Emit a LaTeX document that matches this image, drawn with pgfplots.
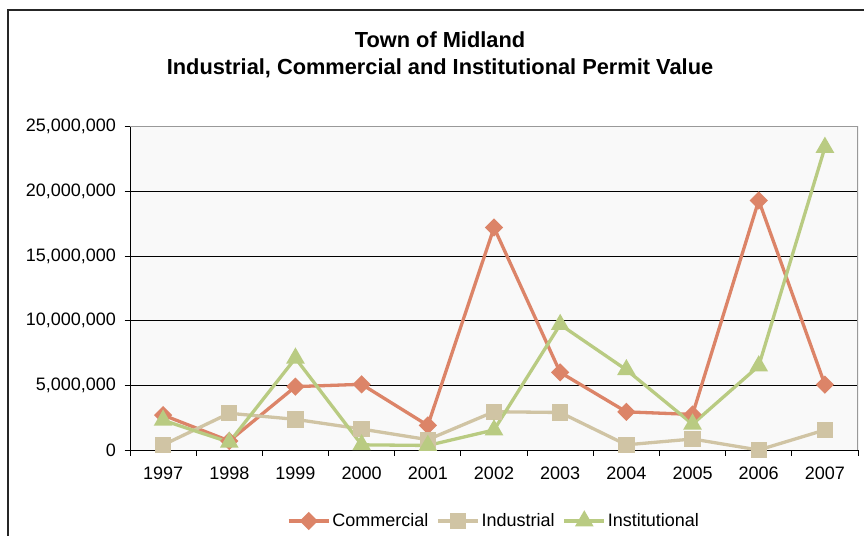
\documentclass[border=0pt]{standalone}
\usepackage{fontspec}
\setmainfont{Liberation Sans}
\usepackage{pgfplots}
\pgfplotsset{compat=1.18}

\definecolor{comc}{RGB}{220,132,104}
\definecolor{indc}{RGB}{208,196,164}
\definecolor{insc}{RGB}{185,203,130}
\definecolor{bgc}{RGB}{249,249,249}

\begin{document}
\begin{tikzpicture}
\useasboundingbox (0pt,0pt) rectangle (864pt,535pt);
\draw[line width=1.3pt,black!85] (8pt,-10pt) -- (8pt,525pt) -- (880pt,525pt);
\node[font=\fontsize{21.8}{24}\selectfont\bfseries] at (440pt,495pt) {Town of Midland};
\node[font=\fontsize{21.8}{24}\selectfont\bfseries] at (440pt,467pt) {Industrial, Commercial and Institutional Permit Value};
\begin{axis}[
  at={(130pt,85pt)}, anchor=south west,
  scale only axis, width=728pt, height=323.3pt,
  xmin=-0.5, xmax=10.5, ymin=0, ymax=25000000,
  axis x line*=bottom, axis y line*=left,
  axis line style={black, line width=1pt},
  axis background/.style={fill=bgc},
  ytick={0,5000000,...,25000000},
  scaled y ticks=false,
  yticklabel style={xshift=-5pt, /pgf/number format/.cd, fixed, 1000 sep={,}},
  /pgf/number format/assume math mode=true,
  ymajorgrids, grid style={black, line width=0.9pt},
  xtick={-0.5,0.5,...,10.5}, xticklabels={},
  extra x ticks={0,1,...,10},
  extra x tick labels={1997,1998,1999,2000,2001,2002,2003,2004,2005,2006,2007},
  extra x tick style={major tick length=0pt, xticklabel style={yshift=-13pt}},
  tick align=outside, major tick length=5.5pt,
  tick style={black, line width=0.9pt},
  ticklabel style={font=\fontsize{18}{20}\selectfont},
  legend style={at={(axis description cs:0.5,-0.2196)}, anchor=center, draw=none, fill=none,
    font=\fontsize{18}{20}\selectfont, legend columns=3,
    /tikz/every even column/.append style={column sep=6pt}},
  legend image code/.code={\draw[mark repeat=2,mark phase=2,#1] plot coordinates {(0pt,0pt) (20pt,0pt) (40pt,0pt)};},
  every axis plot/.append style={line width=3.3pt},
]
\addplot[comc, mark=square*, mark size=4.8pt, mark options={rotate=45, solid}] coordinates {
(0,2700000) (1,700000) (2,4900000) (3,5080000) (4,1900000) (5,17200000)
(6,6000000) (7,2950000) (8,2750000) (9,19300000) (10,5050000)
};
\addlegendentry{Commercial}
\addplot[indc, mark=square*, mark size=6.5pt] coordinates {
(0,390000) (1,2840000) (2,2370000) (3,1620000) (4,800000) (5,2960000)
(6,2900000) (7,400000) (8,850000) (9,0) (10,1550000)
};
\addlegendentry{Industrial}
\addplot[insc, mark=triangle*, mark size=7.5pt] coordinates {
(0,2300000) (1,600000) (2,7100000) (3,400000) (4,350000) (5,1550000)
(6,9700000) (7,6200000) (8,2000000) (9,6500000) (10,23400000)
};
\addlegendentry{Institutional}
\draw[black!40, line width=1.5pt] (rel axis cs:0,1) -- (rel axis cs:1,1) -- (rel axis cs:1,0);
\end{axis}
\end{tikzpicture}
\end{document}
